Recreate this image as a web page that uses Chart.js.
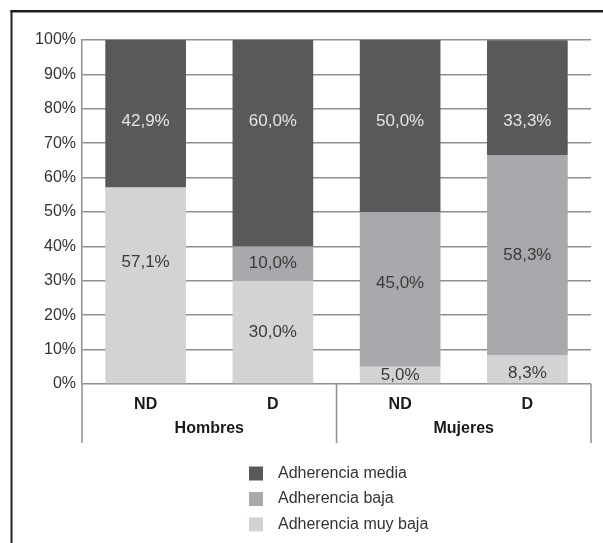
<!DOCTYPE html>
<html>
<head>
<meta charset="utf-8">
<script src="https://cdn.jsdelivr.net/npm/chart.js@4.4.0/dist/chart.umd.min.js"></script>
<style>
  html, body { margin: 0; padding: 0; background: #fff; }
  canvas { display: block; }
</style>
</head>
<body>
<canvas id="c" width="603" height="543"></canvas>
<script>
// Categories and groups on the x axis
const categories = ['ND', 'D', 'ND', 'D'];
const groups = ['Hombres', 'Mujeres'];

// Series (percent of each bar), bottom to top
const seriesNames = ['Adherencia muy baja', 'Adherencia baja', 'Adherencia media'];
const muyBaja = [57.1, 30.0, 5.0, 8.3];
const baja    = [0, 10.0, 45.0, 58.3];
const media   = [42.9, 60.0, 50.0, 33.3];

// Y axis tick values
const yTicks = [0, 10, 20, 30, 40, 50, 60, 70, 80, 90, 100];

const FONT = '"Liberation Sans", Arial, Helvetica, sans-serif';
const GRID = '#8f8f8f';
const colors = ['#d1d3d4', '#a7a9ac', '#58595b'];
const valueColors = ['#3a3a3a', '#3a3a3a', '#e4e4e4'];

// Where value labels sit on the y scale (null = middle of the segment)
const labelLevels = [
  [35.4, null, null, 3.1],
  [null, null, 29.3, null],
  [76.5, 76.5, 76.5, 76.5]
];

const fmt = v => v.toFixed(1).replace('.', ',') + '%';

const decorations = {
  id: 'decorations',
  beforeDraw(chart) {
    const ctx = chart.ctx;
    ctx.save();
    ctx.fillStyle = '#231f20';
    ctx.fillRect(10.5, 10, 592.5, 2.5);
    ctx.fillRect(10.5, 10, 2, 533);
    ctx.restore();
  },
  afterDraw(chart) {
    const ctx = chart.ctx;
    const area = chart.chartArea;
    const x = chart.scales.x;
    const y = chart.scales.y;
    ctx.save();

    // group separators below the axis
    const mid = (x.getPixelForValue(1) + x.getPixelForValue(2)) / 2;
    ctx.strokeStyle = GRID;
    ctx.lineWidth = 1.5;
    [area.left, mid, area.right].forEach(px => {
      ctx.beginPath();
      ctx.moveTo(px, area.bottom);
      ctx.lineTo(px, area.bottom + 59);
      ctx.stroke();
    });

    // group labels
    ctx.fillStyle = '#1a1a1a';
    ctx.font = 'bold 16px ' + FONT;
    ctx.textAlign = 'center';
    ctx.textBaseline = 'middle';
    groups.forEach((g, i) => {
      const cx = (x.getPixelForValue(i * 2) + x.getPixelForValue(i * 2 + 1)) / 2;
      ctx.fillText(g, cx, area.bottom + 45);
    });

    // value labels
    ctx.font = '17px ' + FONT;
    chart.data.datasets.forEach((ds, di) => {
      const meta = chart.getDatasetMeta(di);
      meta.data.forEach((el, j) => {
        const v = ds.data[j];
        if (!v) return;
        const lvl = labelLevels[di][j];
        const py = lvl == null ? (el.y + el.base) / 2 : y.getPixelForValue(lvl);
        ctx.fillStyle = valueColors[di];
        ctx.fillText(fmt(v), el.x, py);
      });
    });

    // legend, top series first
    ctx.font = '16px ' + FONT;
    ctx.textAlign = 'left';
    const rows = [2, 1, 0];
    rows.forEach((di, r) => {
      const cy = 473.5 + r * 25.5;
      ctx.fillStyle = colors[di];
      ctx.fillRect(249, cy - 7, 14, 14);
      ctx.fillStyle = '#333';
      ctx.fillText(seriesNames[di], 278, cy);
    });
    ctx.restore();
  }
};

new Chart(document.getElementById('c'), {
  type: 'bar',
  data: {
    labels: categories,
    datasets: [
      { label: seriesNames[0], data: muyBaja, backgroundColor: colors[0] },
      { label: seriesNames[1], data: baja, backgroundColor: colors[1] },
      { label: seriesNames[2], data: media, backgroundColor: colors[2] }
    ]
  },
  options: {
    responsive: false,
    animation: false,
    categoryPercentage: 1,
    barPercentage: 0.634,
    layout: { padding: { top: 40, right: 12, bottom: 100, left: 0 } },
    plugins: { legend: { display: false }, tooltip: { enabled: false } },
    scales: {
      x: {
        stacked: true,
        grid: { display: false },
        border: { display: false },
        ticks: { font: { family: FONT, size: 16, weight: 'bold' }, color: '#1a1a1a', padding: 3, maxRotation: 0 },
        afterFit(s) { s.height = 59; }
      },
      y: {
        stacked: true,
        min: 0,
        max: 100,
        afterBuildTicks(s) { s.ticks = yTicks.map(v => ({ value: v })); },
        ticks: { callback: v => v + '%', font: { family: FONT, size: 16 }, color: '#333', padding: 6 },
        grid: { color: GRID, lineWidth: 1.5, drawTicks: false },
        border: { display: true, color: GRID, width: 1.5 },
        afterFit(s) { s.width = 82; }
      }
    }
  },
  plugins: [decorations]
});
</script>
</body>
</html>
